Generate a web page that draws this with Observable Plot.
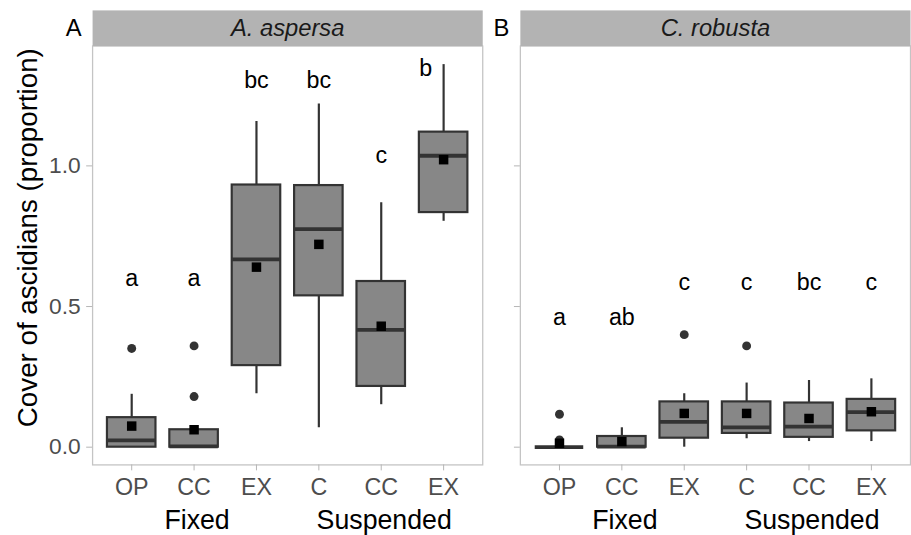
<!DOCTYPE html>
<html><head><meta charset="utf-8">
<script src="https://cdn.jsdelivr.net/npm/d3@7"></script>
<script src="https://cdn.jsdelivr.net/npm/@observablehq/plot@0.6"></script>
<style>
html,body{margin:0;padding:0;background:#fff;overflow:hidden;width:911px;height:535px}
#chart{width:911px;height:535px;overflow:hidden;position:relative}
#chart svg{display:block}
</style></head><body><div id="chart"></div>
<script>
// ---- data ----
const species = ["A. aspersa", "C. robusta"];
const panelTags = ["A", "B"];
const treatments = ["F-OP", "F-CC", "F-EX", "S-C", "S-CC", "S-EX"];
const tickLabels = ["OP", "CC", "EX", "C", "CC", "EX"];
const groupNames = ["Fixed", "Suspended"];
const groupAnchors = ["F-CC", "S-CC"];
const yTicks = [0, 0.5, 1.0];

// A. aspersa
const aspersaLow    = [0.000, 0.000, 0.190, 0.069, 0.151, 0.803];
const aspersaQ1     = [0.000, 0.000, 0.290, 0.538, 0.216, 0.834];
const aspersaMedian = [0.024, 0.003, 0.668, 0.775, 0.417, 1.036];
const aspersaQ3     = [0.105, 0.062, 0.932, 0.930, 0.589, 1.120];
const aspersaHigh   = [0.188, 0.062, 1.158, 1.220, 0.869, 1.360];
const aspersaMean   = [0.075, 0.062, 0.640, 0.721, 0.430, 1.022];
const aspersaLetters = ["a", "a", "bc", "bc", "c", "b"];
const aspersaLetterY = [0.60, 0.60, 1.305, 1.305, 1.035, 1.345];
const aspersaOutliers = [["F-OP", 0.351], ["F-CC", 0.360], ["F-CC", 0.180]];

// C. robusta
const robustaLow    = [0.000, 0.000, 0.000, 0.030, 0.020, 0.020];
const robustaQ1     = [0.000, 0.000, 0.032, 0.049, 0.035, 0.058];
const robustaMedian = [0.000, 0.002, 0.090, 0.070, 0.073, 0.125];
const robustaQ3     = [0.000, 0.038, 0.161, 0.161, 0.157, 0.170];
const robustaHigh   = [0.000, 0.069, 0.190, 0.228, 0.237, 0.243];
const robustaMean   = [0.014, 0.020, 0.120, 0.120, 0.102, 0.126];
const robustaLetters = ["a", "ab", "c", "c", "bc", "c"];
const robustaLetterY = [0.46, 0.46, 0.587, 0.587, 0.587, 0.587];
const robustaOutliers = [["F-OP", 0.117], ["F-OP", 0.026], ["F-EX", 0.400], ["S-C", 0.360]];

// ---- tables ----
function buildRows(sp, low, q1, med, q3, high, mean, letters, letterY) {
  return treatments.map((t, i) => ({species: sp, key: t, low: low[i], q1: q1[i], median: med[i],
    q3: q3[i], high: high[i], mean: mean[i], letter: letters[i], letterY: letterY[i]}));
}
const rows = [
  ...buildRows(species[0], aspersaLow, aspersaQ1, aspersaMedian, aspersaQ3, aspersaHigh, aspersaMean, aspersaLetters, aspersaLetterY),
  ...buildRows(species[1], robustaLow, robustaQ1, robustaMedian, robustaQ3, robustaHigh, robustaMean, robustaLetters, robustaLetterY)
];
const outliers = [
  ...aspersaOutliers.map(([k, v]) => ({species: species[0], key: k, value: v})),
  ...robustaOutliers.map(([k, v]) => ({species: species[1], key: k, value: v}))
];
const speciesRows = species.map((s, i) => ({species: s, tag: panelTags[i]}));
const groupRows = species.flatMap(s => groupNames.map((g, i) => ({species: s, key: groupAnchors[i], text: g})));
// the last A. aspersa letter sits left of its whisker in the original
const isNudged = d => d.species === species[0] && d.key === treatments[5];

const font = "'Liberation Sans', Arial, Helvetica, sans-serif";
const dark = "#333333";

const chart = Plot.plot({
  width: 920, height: 535,
  marginLeft: 92, marginRight: 0, marginTop: 46, marginBottom: 66,
  style: {fontFamily: font, background: "#fff", overflow: "visible"},
  fx: {domain: species, paddingInner: 0.0877, paddingOuter: 0, axis: null, label: null},
  x: {domain: treatments, paddingInner: 0.23, paddingOuter: 0.215, axis: null, label: null},
  y: {domain: [-0.063, 1.426], axis: null, label: null},
  marks: [
    // panel border
    Plot.frame({stroke: "#c4c4c4", strokeWidth: 1.3}),
    // strip background
    Plot.frame({fill: "#b3b3b3", stroke: null, insetTop: -36, insetBottom: 423}),
    Plot.text(speciesRows, {fx: "species", text: "species", frameAnchor: "top", dy: -18, lineAnchor: "middle",
      fontSize: 24, fontStyle: "italic", fill: "#1a1a1a"}),
    Plot.text(speciesRows, {fx: "species", text: "tag", frameAnchor: "top-left", dx: -19, dy: -18,
      lineAnchor: "middle", fontSize: 24, fill: "#000", textAnchor: "middle"}),
    // y ticks in all panels
    Plot.axisY({ticks: yTicks, tickFormat: () => "", facetAnchor: null, tickSize: 6,
      stroke: "#b5b5b5", label: null}),
    // y tick labels in first panel
    Plot.axisY({ticks: yTicks, tickFormat: d3.format(".1f"), tickSize: 0, tickPadding: 12,
      fill: "#4d4d4d", fontSize: 23, label: null}),
    // x axis
    Plot.axisX({ticks: treatments, tickFormat: d => tickLabels[treatments.indexOf(d)],
      tickSize: 6, tickPadding: 8, stroke: "#b5b5b5", fill: "#4d4d4d", fontSize: 23.5, label: null}),
    Plot.text(groupRows, {fx: "species", x: "key", text: "text", frameAnchor: "bottom", dy: 56, dx: 3,
      lineAnchor: "middle", fontSize: 27, fill: "#000"}),
    // y title
    Plot.text([speciesRows[0]], {fx: "species", text: () => "Cover of ascidians (proportion)",
      frameAnchor: "left", dx: -65, dy: -18, rotate: -90, textAnchor: "middle", lineAnchor: "middle",
      fontSize: 28, fill: "#000"}),
    // boxplots
    Plot.ruleX(rows, {fx: "species", x: "key", y1: "low", y2: "high", stroke: dark, strokeWidth: 2.2}),
    Plot.barY(rows, {fx: "species", x: "key", y1: "q1", y2: "q3", fill: "#878787", stroke: dark, strokeWidth: 2.2}),
    Plot.tickY(rows, {fx: "species", x: "key", y: "median", stroke: dark, strokeWidth: 3.8}),
    Plot.dot(outliers, {fx: "species", x: "key", y: "value", r: 4.5, fill: dark, stroke: null}),
    Plot.dot(rows, {fx: "species", x: "key", y: "mean", symbol: "square", r: 5.4, fill: "#000", stroke: null}),
    // significance letters
    Plot.text(rows, {fx: "species", x: "key", y: "letterY", text: "letter", fontSize: 23.5, fill: "#000",
      filter: d => !isNudged(d)}),
    Plot.text(rows, {fx: "species", x: "key", y: "letterY", text: "letter", fontSize: 23.5, fill: "#000",
      dx: -18, filter: isNudged})
  ]
});
document.getElementById("chart").appendChild(chart);
</script>
</body></html>
